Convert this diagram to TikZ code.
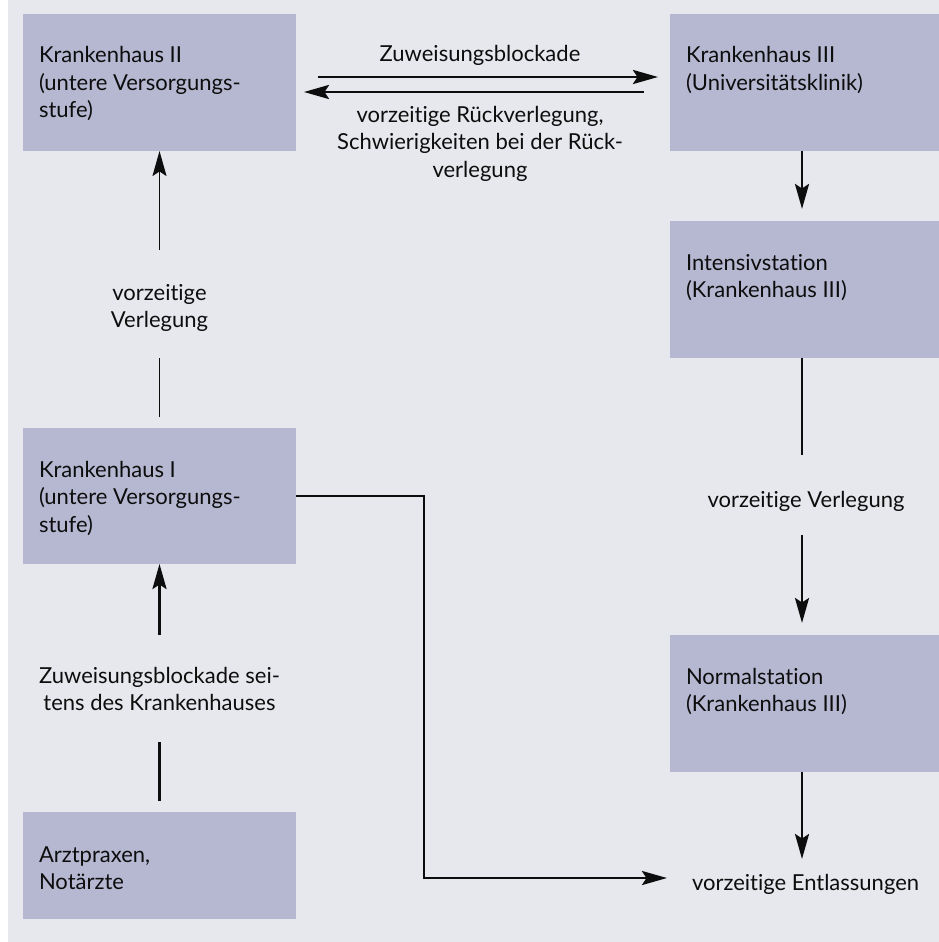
\documentclass[tikz,border=0pt]{standalone}
\usepackage{fontspec}
\setmainfont[Ligatures=NoCommon]{Lato}
\usetikzlibrary{arrows.meta,calc}
\definecolor{bgc}{HTML}{E7E8EE}
\definecolor{boxc}{HTML}{B6B8D2}
\definecolor{ink}{HTML}{0D0D0D}
\newcommand{\myLines}[1]{\vtop{\baselineskip=27.5pt\lineskiplimit=-30pt\halign{##\hfil\cr#1\crcr}}}
\newcommand{\myCLines}[1]{\vtop{\baselineskip=27.5pt\lineskiplimit=-30pt\halign{\hfil##\hfil\cr#1\crcr}}}
\begin{document}
\begin{tikzpicture}[x=1pt,y=-1pt,
  >={Stealth[length=25pt,width=14pt,inset=4.5pt]},
  every node/.style={font=\fontsize{22pt}{27.5pt}\selectfont, text=ink},
  boxn/.style={fill=boxc, draw=none, inner sep=0pt, outer sep=0pt, anchor=north west},
  txt/.style={inner sep=0pt, outer sep=0pt},
  thinl/.style={draw=ink, line width=1.6pt},
  thickl/.style={draw=ink, line width=2.8pt}]
\useasboundingbox (0,0) rectangle (939,942);
\fill[bgc] (8,0) rectangle (939,942);

% boxes
\node[boxn, minimum width=273pt, minimum height=137pt] (k2) at (23,14) {};
\node[boxn, minimum width=269pt, minimum height=137pt] (k3) at (670,14) {};
\node[boxn, minimum width=269pt, minimum height=137pt] (int) at (670,221) {};
\node[boxn, minimum width=273pt, minimum height=136pt] (k1) at (23,428) {};
\node[boxn, minimum width=269pt, minimum height=137pt] (norm) at (670,635) {};
\node[boxn, minimum width=273pt, minimum height=107pt] (arzt) at (23,812) {};

% box texts
\node[txt, anchor=base west] (k2t) at (39,63) {\myLines{Krankenhaus II\cr(untere Versorgungs-\cr stufe)}};
\node[txt, anchor=base west] (k3t) at (686,63) {\myLines{Krankenhaus III\cr(Universitätsklinik)}};
\node[txt, anchor=base west] (intt) at (686,270) {\myLines{Intensivstation\cr(Krankenhaus III)}};
\node[txt, anchor=base west] (k1t) at (39,477) {\myLines{Krankenhaus I\cr(untere Versorgungs-\cr stufe)}};
\node[txt, anchor=base west] (normt) at (686,684) {\myLines{Normalstation\cr(Krankenhaus III)}};
\node[txt, anchor=base west] (arztt) at (39,862) {\myLines{Arztpraxen,\cr Notärzte}};

% labels
\node[txt, anchor=base] (la) at (480,62) {Zuweisungsblockade};
\node[txt, anchor=base] (lb) at (480,122) {\myCLines{vorzeitige Rückverlegung,\cr Schwierigkeiten bei der Rück-\cr verlegung}};
\node[txt, anchor=base] (lc) at (159.5,300) {\myCLines{vorzeitige\cr Verlegung}};
\node[txt, anchor=base] (ld) at (159.5,683) {\myCLines{Zuweisungsblockade sei-\cr tens des Krankenhauses}};
\node[txt, anchor=base] (le) at (806,507) {vorzeitige Verlegung};
\node[txt, anchor=base west] (lf) at (692,890) {vorzeitige Entlassungen};

% coordinates
\coordinate (c1) at (159.5,358);
\coordinate (c2) at (159.5,250);
\coordinate (c3) at (159.5,742);
\coordinate (c4) at (159.5,635);
\coordinate (c5) at (424,878);
\coordinate (c7) at (802,455);
\coordinate (c8) at (802,535);
\coordinate (c9) at (802,859);

% connectors
\draw[thinl, shorten <=11pt] (k1.north) -- (c1);
\draw[thinl, ->] (c2) -- (k2.south);
\draw[thickl, shorten <=11pt] (arzt.north) -- (c3);
\draw[thickl, ->] (c4) -- (k1.south);
\draw[thickl, ->, shorten >=25pt] (k1.east) -| (c5) -- (lf.west |- c5);
\draw[thickl, ->, shorten >=12pt] ([xshift=-2.5pt]k3.south) -- ([xshift=-2.5pt]int.north);
\draw[thickl] ([xshift=-2.5pt]int.south) -- (c7);
\draw[thickl, ->, shorten >=12pt] (c8) -- ([xshift=-2.5pt]norm.north);
\draw[thickl, ->] ([xshift=-2.5pt]norm.south) -- (c9);
\draw[thickl, ->, shorten <=22pt, shorten >=12pt] ([yshift=5.5pt]k2.east) -- ([yshift=5.5pt]k3.west);
\draw[thickl, ->, shorten <=26pt, shorten >=8pt] ([yshift=-9.5pt]k3.west) -- ([yshift=-9.5pt]k2.east);
\end{tikzpicture}
\end{document}
